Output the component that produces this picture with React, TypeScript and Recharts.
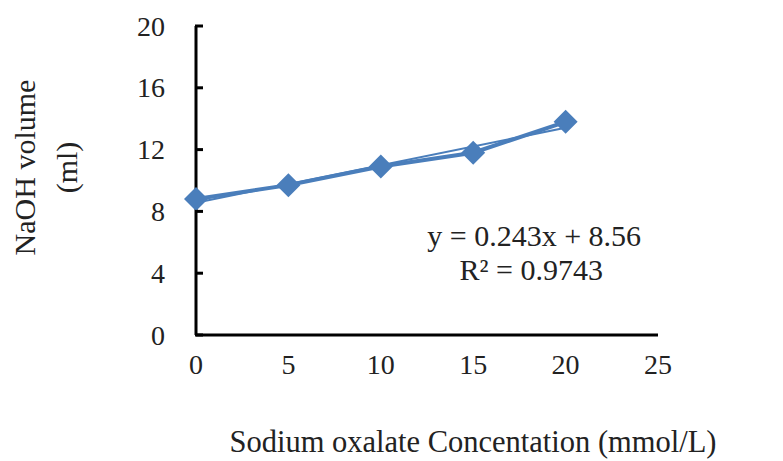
import React from "react";
import {
  ComposedChart,
  Line,
  XAxis,
  YAxis,
  ReferenceDot,
} from "recharts";

const concentration = [0, 5, 10, 15, 20];
const naohVolume = [8.8, 9.7, 10.9, 11.8, 13.8];
const xTicks = [0, 5, 10, 15, 20, 25];
const yTicks = [0, 4, 8, 12, 16, 20];
const trendSlope = 0.243;
const trendIntercept = 8.56;
const trendEquation = "y = 0.243x + 8.56";
const trendR2 = "R² = 0.9743";

const measured = concentration.map((x, i) => ({ x, y: naohVolume[i] }));
const trend = [0, 20].map((x) => ({ x, y: trendIntercept + trendSlope * x }));

const blue = "#4a7ebb";
const font = "'Liberation Serif', 'Times New Roman', serif";

const Diamond = (props: any) => {
  const { cx, cy } = props;
  if (cx == null || cy == null) return null;
  const r = 12;
  return (
    <polygon
      points={`${cx},${cy - r} ${cx + r},${cy} ${cx},${cy + r} ${cx - r},${cy}`}
      fill={blue}
    />
  );
};

const YTick = (props: any) => {
  const { x, y, payload } = props;
  return (
    <g>
      <line x1={x + 30} x2={x + 38} y1={y} y2={y} stroke="#000" strokeWidth={3} />
      <text
        x={x}
        y={y}
        textAnchor="end"
        dominantBaseline="central"
        fontSize={28}
        fontFamily={font}
        fill="#222"
      >
        {payload.value}
      </text>
    </g>
  );
};

const YTitle = (props: any) => {
  const { viewBox } = props;
  const cy = viewBox.y + viewBox.height / 2 - 13;
  return (
    <g fontFamily={font} fontSize={30} fill="#222">
      <text x={viewBox.x + 24} y={cy} textAnchor="middle" dominantBaseline="central" transform={`rotate(-90 ${viewBox.x + 24} ${cy})`}>
        NaOH volume
      </text>
      <text x={viewBox.x + 66} y={cy} textAnchor="middle" dominantBaseline="central" transform={`rotate(-90 ${viewBox.x + 66} ${cy})`}>
        (ml)
      </text>
    </g>
  );
};

const XTitle = (props: any) => {
  const { viewBox } = props;
  return (
    <text
      x={viewBox.x + viewBox.width / 2 + 46}
      y={viewBox.y + 107}
      textAnchor="middle"
      dominantBaseline="central"
      fontFamily={font}
      fontSize={30.5}
      fill="#222"
    >
      Sodium oxalate Concentation (mmol/L)
    </text>
  );
};

const EquationLabel = (props: any) => {
  const { viewBox } = props;
  const cx = viewBox.cx ?? viewBox.x;
  const cy = viewBox.cy ?? viewBox.y;
  return (
    <g fontFamily={font} fontSize={30} fill="#222" textAnchor="middle">
      <text x={cx} y={cy - 16} dominantBaseline="central">{trendEquation}</text>
      <text x={cx - 3} y={cy + 18} dominantBaseline="central">{trendR2}</text>
    </g>
  );
};

export default function App() {
  return (
    <div style={{ position: "absolute", left: 0, top: 0, background: "#fff" }}>
      <ComposedChart
        width={783}
        height={461}
        margin={{ top: 26, right: 125, bottom: 0, left: 0 }}
      >
        <XAxis
          type="number"
          dataKey="x"
          domain={[0, 25]}
          ticks={xTicks}
          height={126}
          tickSize={0}
          tickMargin={19}
          axisLine={{ stroke: "#000", strokeWidth: 3 }}
          tickLine={false}
          tick={{ fontSize: 28, fontFamily: font, fill: "#222" }}
          label={<XTitle />}
        />
        <YAxis
          type="number"
          domain={[0, 20]}
          ticks={yTicks}
          width={196}
          tickSize={0}
          tickMargin={31}
          axisLine={{ stroke: "#000", strokeWidth: 3 }}
          tickLine={false}
          tick={<YTick />}
          label={<YTitle />}
        />
        <Line
          data={trend}
          dataKey="y"
          stroke={blue}
          strokeWidth={2}
          dot={false}
          activeDot={false}
          isAnimationActive={false}
        />
        <Line
          data={measured}
          dataKey="y"
          stroke={blue}
          strokeWidth={4}
          dot={<Diamond />}
          activeDot={false}
          isAnimationActive={false}
        />
        <ReferenceDot x={18.3} y={5.4} r={0} fill="none" stroke="none" label={<EquationLabel />} />
      </ComposedChart>
    </div>
  );
}
